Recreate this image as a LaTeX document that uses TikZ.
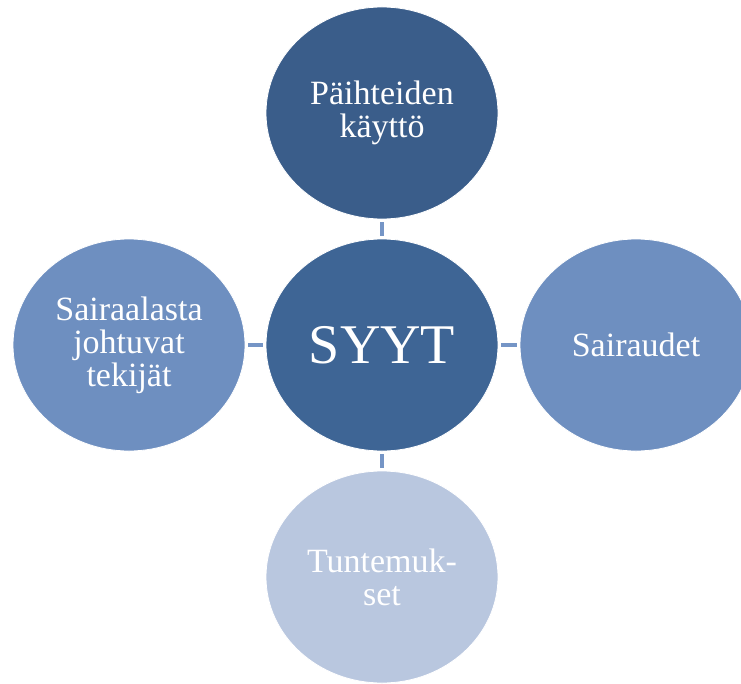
\documentclass[tikz,border=0pt]{standalone}
\usepackage{fontspec}
\setmainfont{Liberation Serif}
\usetikzlibrary{shapes.geometric}
\definecolor{cTop}{HTML}{3A5D8A}
\definecolor{cMid}{HTML}{3E6595}
\definecolor{cSide}{HTML}{6E8FC0}
\definecolor{cBot}{HTML}{B9C7DF}
\definecolor{cLink}{HTML}{7595C6}
\tikzset{
  bubble/.style={ellipse, draw=white, line width=0.8bp, inner sep=0pt,
    minimum width=232bp, minimum height=212bp, text=white, align=center,
    font=\fontsize{34bp}{33bp}\selectfont},
  link/.style={draw=cLink, line width=4bp, shorten <=3bp, shorten >=3bp}
}
\begin{document}
\begin{tikzpicture}[x=1bp,y=-1bp]
\useasboundingbox (0,0) rectangle (741,684);
\clip (0,0) rectangle (741,684);
\node[bubble, fill=cTop] (top) at (382,113) {Päihteiden\\käyttö};
\node[bubble, fill=cMid, font=\fontsize{56bp}{56bp}\selectfont] (mid) at (382,345) {SYYT};
\node[bubble, fill=cSide] (left) at (129,345) {Sairaalasta\\johtuvat\\tekijät};
\node[bubble, fill=cSide] (right) at (636,345) {Sairaudet};
\node[bubble, fill=cBot] (bot) at (382,577) {Tuntemuk-\\set};
\draw[link] (top) -- (mid);
\draw[link] (mid) -- (bot);
\draw[link] (left) -- (mid);
\draw[link] (mid) -- (right);
\end{tikzpicture}
\end{document}
